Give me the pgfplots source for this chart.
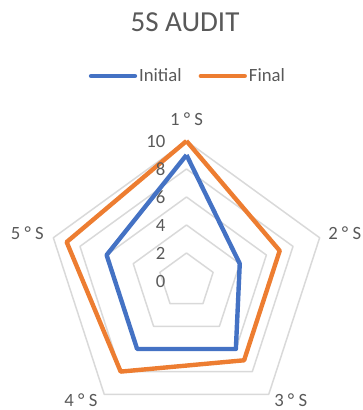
\documentclass[border=0pt]{standalone}
\usepackage{fontspec}
\setmainfont{Carlito}
\usepackage{pgfplots}
\pgfplotsset{compat=1.18}
\usepgfplotslibrary{polar}
\definecolor{cblue}{HTML}{4472C4}
\definecolor{corange}{HTML}{ED7D31}
\definecolor{ctext}{HTML}{595959}
\definecolor{cgrid}{HTML}{D9D9D9}
\begin{document}
\begin{tikzpicture}[x=1pt,y=1pt]
\useasboundingbox (-186.5,-129) rectangle (175.5,281);
\begin{polaraxis}[
  at={(0,0)}, anchor=origin,
  scale only axis, width=280pt, height=280pt,
  ymin=0, ymax=10,
  xtick=\empty, ytick=\empty,
  axis line style={draw=none},
  clip=false,
  legend style={at={(axis description cs:0.505,1.232)}, anchor=center,
    draw=none, fill=none, legend columns=2,
    font=\fontsize{18.7}{22}\selectfont, text=ctext,
    /tikz/every even column/.append style={column sep=15pt},
    inner sep=0pt},
  legend image code/.code={\draw[#1, line width=4.3pt, line cap=round] (0pt,0pt) -- (44pt,0pt);},
]
% gridlines
\foreach \r in {2,4,6,8,10}{
  \edef\tmp{\noexpand\addplot[cgrid, line width=1.5pt, forget plot, line join=round] coordinates {(90,\r) (18,\r) (-54,\r) (-126,\r) (162,\r) (90,\r)};}
  \tmp
}
\addplot[cblue, line width=4.4pt, line join=round] coordinates {(90,9) (18,4) (-54,6) (-126,6) (162,6) (90,9)};
\addlegendentry{Initial}
\addplot[corange, line width=4.4pt, line join=round] coordinates {(90,10) (18,7) (-54,7) (-126,8) (162,9) (90,10)};
\addlegendentry{Final}
% radial tick labels
\foreach \v in {0,2,4,6,8,10}{
  \edef\tmp{\noexpand\node[anchor=east, inner sep=0pt, text=ctext, font=\noexpand\fontsize{18.7}{22}\noexpand\selectfont, xshift=-21pt] at (axis cs:90,\v) {\v};}
  \tmp
}
% category labels
\begin{scope}[every node/.style={text=ctext, font=\fontsize{18.7}{22}\selectfont, inner sep=0pt}]
\node at (axis cs:90,11.57) {1 ° S};
\node at (axis cs:16.7,11.8) {2 ° S};
\node at (axis cs:-48.8,11.3) {3 ° S};
\node at (axis cs:-131.6,11.36) {4 ° S};
\node at (axis cs:163.4,11.86) {5 ° S};
\end{scope}
\end{polaraxis}
\node[text=ctext, font=\fontsize{29}{34}\selectfont, inner sep=0pt] at (-1.5,258.5) {5S AUDIT};
\end{tikzpicture}
\end{document}
